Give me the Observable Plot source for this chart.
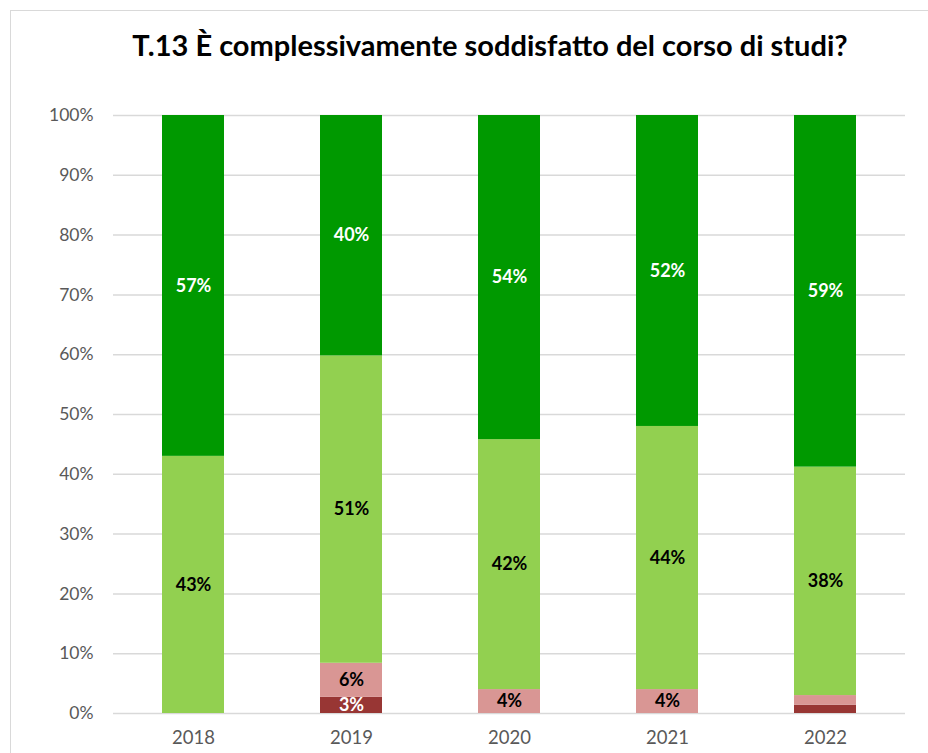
<!DOCTYPE html>
<html>
<head>
<meta charset="utf-8">
<script src="https://cdn.jsdelivr.net/npm/d3@7"></script>
<script src="https://cdn.jsdelivr.net/npm/@observablehq/plot@0.6"></script>
<style>
  html, body { margin: 0; padding: 0; background: #fff; overflow: hidden; width: 928px; height: 753px; }
  #frame { position: absolute; left: 10px; top: 10px; width: 1000px; height: 1000px; border: 1.5px solid #d9d9d9; box-sizing: border-box; }
  #wrap { position: absolute; left: 0; top: 0; width: 928px; }
  #title { height: 90px; line-height: 90px; text-align: center; font-family: Lato, "Open Sans", sans-serif; font-weight: bold; font-size: 29px; color: #000; box-sizing: border-box; width: 980px; }
  svg { display: block; }
</style>
</head>
<body>
<div id="frame"></div>
<div id="wrap">
  <div id="title">T.13 È complessivamente soddisfatto del corso di studi?</div>
  <div id="chart"></div>
</div>
<script>
const years = ["2018", "2019", "2020", "2021", "2022"];
const categories = ["Decisamente no", "Più no che sì", "Più sì che no", "Decisamente sì"];
const colors = ["#983634", "#d99694", "#92d050", "#009900"];
const decisamenteNo = [0, 2.7, 0, 0, 1.4];
const piuNoCheSi = [0, 5.7, 4.0, 4.0, 1.6];
const piuSiCheNo = [43.0, 51.4, 41.8, 44.0, 38.2];
const decisamenteSi = [57.0, 40.2, 54.2, 52.0, 58.8];
const yTicks = [0, 10, 20, 30, 40, 50, 60, 70, 80, 90, 100];

const series = [decisamenteNo, piuNoCheSi, piuSiCheNo, decisamenteSi];
const data = [];
years.forEach((year, i) => {
  categories.forEach((cat, j) => {
    data.push({ year, cat, value: series[j][i] });
  });
});

const whiteCats = new Set(["Decisamente no", "Decisamente sì"]);
const lbl = d => d.value >= 2.5 ? Math.round(d.value) + "%" : "";

const font = 'Lato, "Open Sans", sans-serif';

const chart = Plot.plot({
  width: 928,
  height: 663,
  marginTop: 25,
  marginBottom: 40,
  marginLeft: 113,
  marginRight: 23,
  style: { fontFamily: font, background: "transparent" },
  x: { domain: years, paddingInner: 0.61, paddingOuter: 0.305, label: null },
  y: { domain: [0, 100], label: null },
  color: { domain: categories, range: colors },
  marks: [
    Plot.gridY(yTicks, { stroke: "#d9d9d9", strokeOpacity: 1, strokeWidth: 1.5 }),
    Plot.barY(data, Plot.stackY({ x: "year", y: "value", fill: "cat", z: "cat", order: categories })),
    Plot.text(data, Plot.stackY({ x: "year", y: "value", z: "cat", order: categories,
      text: d => whiteCats.has(d.cat) ? lbl(d) : "", fill: "white", fontSize: 18, fontWeight: "bold" })),
    Plot.text(data, Plot.stackY({ x: "year", y: "value", z: "cat", order: categories,
      text: d => whiteCats.has(d.cat) ? "" : lbl(d), fill: "black", fontSize: 18, fontWeight: "bold" })),
    Plot.axisY({ ticks: yTicks, tickFormat: d => d + "%", tickSize: 0, tickPadding: 20, fontSize: 17.5, fill: "#595959", label: null }),
    Plot.axisX({ tickSize: 0, tickPadding: 17, fontSize: 18.5, fill: "#595959", label: null })
  ]
});
document.getElementById("chart").appendChild(chart);
</script>
</body>
</html>
